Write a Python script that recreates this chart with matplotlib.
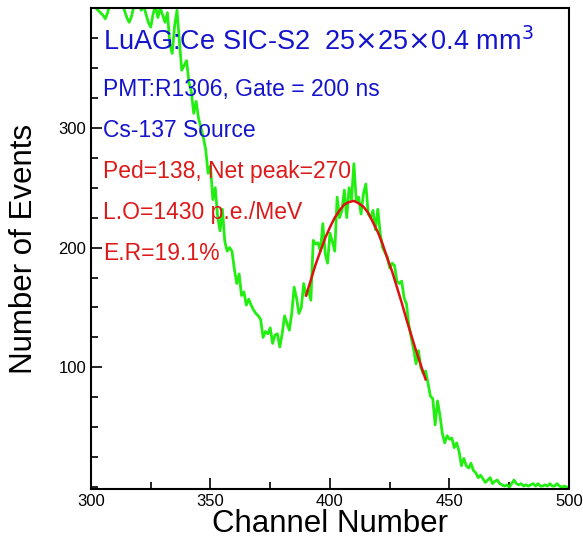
import numpy as np
import matplotlib
matplotlib.use("Agg")
import matplotlib.pyplot as plt
from matplotlib.ticker import MultipleLocator

# green spectrum, one value per channel 300..500
channels = np.arange(300, 501)
counts = [
    410, 405, 400, 398, 396, 394, 391, 396, 405, 410,
    415, 412, 408, 404, 398, 392, 388, 393, 402, 408,
    404, 398, 402, 395, 388, 384, 395, 402, 392, 400,
    394, 388, 396, 370, 362, 385, 398, 372, 348, 352,
    356, 338, 330, 312, 322, 308, 300, 292, 282, 262,
    268, 240, 250, 226, 214, 232, 205, 197, 200, 197,
    182, 170, 178, 160, 163, 152, 157, 152, 148, 145,
    143, 140, 125, 130, 128, 133, 120, 127, 128, 117,
    128, 143, 137, 131, 145, 167, 158, 145, 150, 170,
    160, 165, 156, 206, 203, 204, 197, 220, 195, 187,
    212, 205, 197, 242, 225, 231, 248, 225, 250, 240,
    270, 239, 242, 228, 245, 253, 228, 225, 231, 215,
    232, 212, 200, 196, 192, 183, 187, 185, 172, 170,
    172, 158, 153, 135, 125, 115, 103, 114, 100, 95,
    97, 87, 76, 74, 52, 72, 60, 45, 37, 43,
    40, 41, 33, 37, 30, 18, 24, 18, 16, 20,
    14, 12, 8, 10, 7, 4, 6, 8, 3, 5,
    6, 3, 2, 1, 2, 0, 3, 6, 3, 2,
    3, 1, 2, 1, 2, 3, 1, 3, 1, 1,
    2, 1, 3, 1, 1, 3, 1, 0, 1, 0,
    0,
]

# red gaussian fit curve, read every 2 channels
fit_ch = [390, 392, 394, 396, 398, 400, 402, 404, 406, 408, 410, 412, 414,
          416, 418, 420, 422, 424, 426, 428, 430, 432, 434, 436, 438, 440]
fit_val = [160, 173, 186, 197, 208, 217, 225, 231, 236, 238, 239, 237, 234,
           229, 221, 213, 203, 191, 180, 167, 154, 140, 127, 114, 102, 90]

plt.rcParams['font.family'] = ['Liberation Sans', 'DejaVu Sans']

fig = plt.figure(figsize=(5.83, 5.43), dpi=100)
ax = fig.add_axes([0.156, 0.0994, 0.82, 0.886])

ax.plot(channels, counts, color="#22ee11", lw=2)
ax.plot(fit_ch, fit_val, color="#dd1111", lw=1.8)

ax.set_xlim(300, 500)
ax.set_ylim(-1.5, 400)
ax.xaxis.set_major_locator(MultipleLocator(50))
ax.xaxis.set_minor_locator(MultipleLocator(25))
ax.set_yticks([100, 200, 300])
ax.yaxis.set_minor_locator(MultipleLocator(25))
ax.tick_params(which="both", direction="in", labelsize=12, width=1.2)
ax.tick_params(which="major", length=8)
ax.tick_params(which="minor", length=5)
for s in ax.spines.values():
    s.set_linewidth(1.5)

ax.set_xlabel("Channel Number", fontsize=22.5, labelpad=0)
ax.set_ylabel("Number of Events", fontsize=22.5, labelpad=14)

blue = "#1414cc"
red = "#dd1a1a"
ax.text(0.025, 0.929, r"LuAG:Ce SIC-S2  25$\times$25$\times$0.4 mm$^3$",
        transform=ax.transAxes, color=blue, fontsize=19.5, va="center")
lines = [("PMT:R1306, Gate = 200 ns", blue),
         ("Cs-137 Source", blue),
         ("Ped=138, Net peak=270", red),
         ("L.O=1430 p.e./MeV", red),
         ("E.R=19.1%", red)]
for i, (t, c) in enumerate(lines):
    y = 0.83 - i * 0.0852
    ax.text(0.025, y, t, transform=ax.transAxes, color=c, fontsize=16.5, va="center")

fig.savefig("out.png", dpi=100)
